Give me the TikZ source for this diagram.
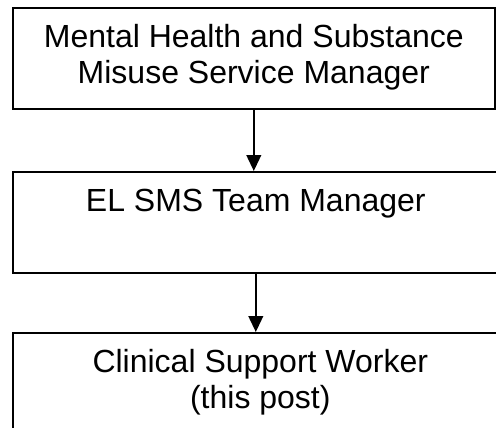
\documentclass[tikz,border=0pt]{standalone}
\usepackage{fontspec}
\setmainfont{Liberation Sans}
\usetikzlibrary{arrows.meta}
\begin{document}
\begin{tikzpicture}[x=0.75pt,y=-0.75pt,
  postbox/.style={draw=black,line width=1.2pt,fill=white,inner sep=0pt,
    minimum height=75.75pt,align=center,anchor=north west,
    font=\fontsize{24}{27}\selectfont},
  reports/.style={line width=1.5pt,-{Triangle[length=12pt,width=11pt]}}]
  % page frame; the lower boxes run past its right and bottom edges
  \clip (0,0) rectangle (496,428);
  \node[postbox,minimum width=361.5pt] (svc) at (12,7)
    {\strut Mental Health and Substance\\\strut Misuse Service Manager};
  \node[postbox,minimum width=364.5pt] (team) at (12,171)
    {\strut EL SMS Team Manager\\\strut};
  \node[postbox,minimum width=371.25pt] (csw) at (12,332)
    {\strut Clinical Support Worker\\\strut (this post)};
  \draw[reports] (svc.south) -- (svc.south |- team.north);
  \draw[reports] (team.south) -- (team.south |- csw.north);
\end{tikzpicture}
\end{document}
